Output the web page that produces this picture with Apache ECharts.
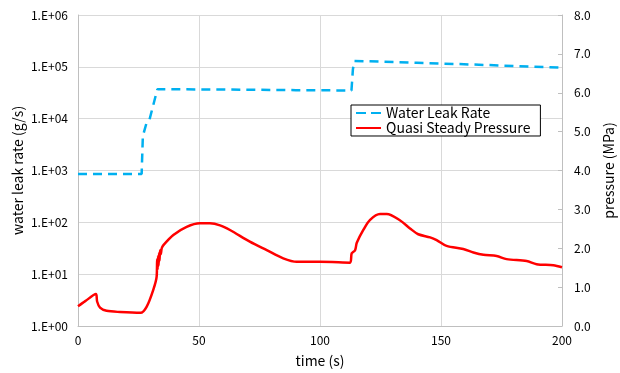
<!DOCTYPE html>
<html>
<head>
<meta charset="utf-8">
<script src="https://cdn.jsdelivr.net/npm/echarts@6/dist/echarts.min.js"></script>
<style>
  html, body { margin: 0; padding: 0; background: #fff; }
  #chart { width: 620px; height: 373px; }
</style>
</head>
<body>
<div id="chart"></div>
<script>
// water leak rate (g/s), left log axis
const leakTime = [0, 26.3, 26.8, 28.2, 29.4, 32.8, 60, 90, 113, 113.6, 114.2, 140, 170, 200]
const leakRate = [860, 860, 4600, 7900, 9000, 37000, 36500, 35500, 35000, 90000, 130000, 120000, 108000, 96000]

// quasi steady pressure (MPa), right axis
const pressTime = [0, 3, 7.4, 7.9, 9.1, 11.8, 17.4, 25.9, 28.4, 31.1, 32.5, 32.7, 32.9, 33.1, 33.3, 33.5, 33.7, 33.9, 34.2, 34.6, 35.3, 39.4, 44.9, 50.4, 54.5, 58.7, 62.8, 71, 78, 84.8, 90.4, 95.9, 100, 112.4, 113.1, 114.5, 115.2, 117.9, 120.7, 124.8, 127.6, 133, 137.2, 140.6, 145.5, 148.2, 152.3, 159.2, 163.4, 167.5, 173, 177.1, 185.4, 189.5, 196.4, 200]
const pressure = [0.51, 0.64, 0.82, 0.63, 0.47, 0.39, 0.36, 0.34, 0.5, 0.93, 1.27, 1.72, 1.45, 1.8, 1.55, 1.88, 1.68, 1.95, 1.85, 2.0, 2.08, 2.34, 2.55, 2.64, 2.64, 2.59, 2.47, 2.17, 1.95, 1.74, 1.65, 1.65, 1.65, 1.63, 1.87, 1.95, 2.14, 2.47, 2.73, 2.88, 2.88, 2.72, 2.51, 2.36, 2.28, 2.21, 2.06, 1.98, 1.89, 1.83, 1.8, 1.72, 1.67, 1.59, 1.56, 1.51]

const FONT = 'Noto Sans CJK JP'

const chart = echarts.init(document.getElementById('chart'))
chart.setOption({
  animation: false,
  textStyle: { fontFamily: FONT },
  grid: { left: 78, right: 58, top: 15, bottom: 47, outerBoundsMode: 'none', containLabel: false },
  legend: {
    left: 351, top: 105, width: 188,
    orient: 'vertical',
    backgroundColor: '#fff',
    borderColor: '#000', borderWidth: 1,
    padding: [1, 10, 1, 5], itemGap: 1,
    itemWidth: 25, itemHeight: 14,
    textStyle: { fontSize: 14, color: '#000', fontFamily: FONT },
    data: [
      { name: 'Water Leak Rate', icon: 'path://M0,6L10,6L10,8L0,8Z M15,6L25,6L25,8L15,8Z', itemStyle: { color: '#00B0F0' } },
      { name: 'Quasi Steady Pressure', icon: 'path://M0,6L25,6L25,8L0,8Z', itemStyle: { color: '#FF0000' } },
    ],
  },
  xAxis: {
    type: 'value', min: 0, max: 200, interval: 50,
    name: 'time (s)', nameLocation: 'middle', nameGap: 28,
    nameTextStyle: { fontSize: 14, color: '#000' },
    axisLine: { lineStyle: { color: '#BFBFBF' } },
    axisTick: { show: false },
    axisLabel: { fontSize: 12, color: '#000', margin: 8 },
    splitLine: { show: true, lineStyle: { color: '#D9D9D9' } },
  },
  yAxis: [
    {
      type: 'log', logBase: 10, min: 1, max: 1e6,
      name: 'water leak rate (g/s)', nameLocation: 'middle', nameGap: 53, nameMoveOverlap: false,
      nameTextStyle: { fontSize: 14, color: '#000' },
      axisLine: { show: true, lineStyle: { color: '#BFBFBF' } },
      axisTick: { show: false },
      axisLabel: {
        fontSize: 12, color: '#000', margin: 10,
        formatter: (v) => '1.E+' + String(Math.round(Math.log10(v))).padStart(2, '0'),
      },
      splitLine: { show: true, lineStyle: { color: '#D9D9D9' } },
    },
    {
      type: 'value', min: 0, max: 8, interval: 1,
      name: 'pressure (MPa)', nameLocation: 'middle', nameGap: 40, nameRotate: 90,
      nameTextStyle: { fontSize: 14, color: '#000' },
      axisLine: { show: true, lineStyle: { color: '#BFBFBF' } },
      axisTick: { show: true, inside: true, length: 4, lineStyle: { color: '#BFBFBF' } },
      axisLabel: { fontSize: 12, color: '#000', margin: 12, formatter: (v) => v.toFixed(1) },
      splitLine: { show: false },
    },
  ],
  series: [
    {
      name: 'Water Leak Rate', type: 'line', yAxisIndex: 0,
      showSymbol: false, symbol: 'none',
      data: leakTime.map((t, i) => [t, leakRate[i]]),
      lineStyle: { color: '#00B0F0', width: 2.5, type: [9, 6] },
      itemStyle: { color: '#00B0F0' },
    },
    {
      name: 'Quasi Steady Pressure', type: 'line', yAxisIndex: 1,
      showSymbol: false, symbol: 'none', smooth: 0.3,
      data: pressTime.map((t, i) => [t, pressure[i]]),
      lineStyle: { color: '#FF0000', width: 2.5 },
      itemStyle: { color: '#FF0000' },
    },
  ],
})
</script>
</body>
</html>
